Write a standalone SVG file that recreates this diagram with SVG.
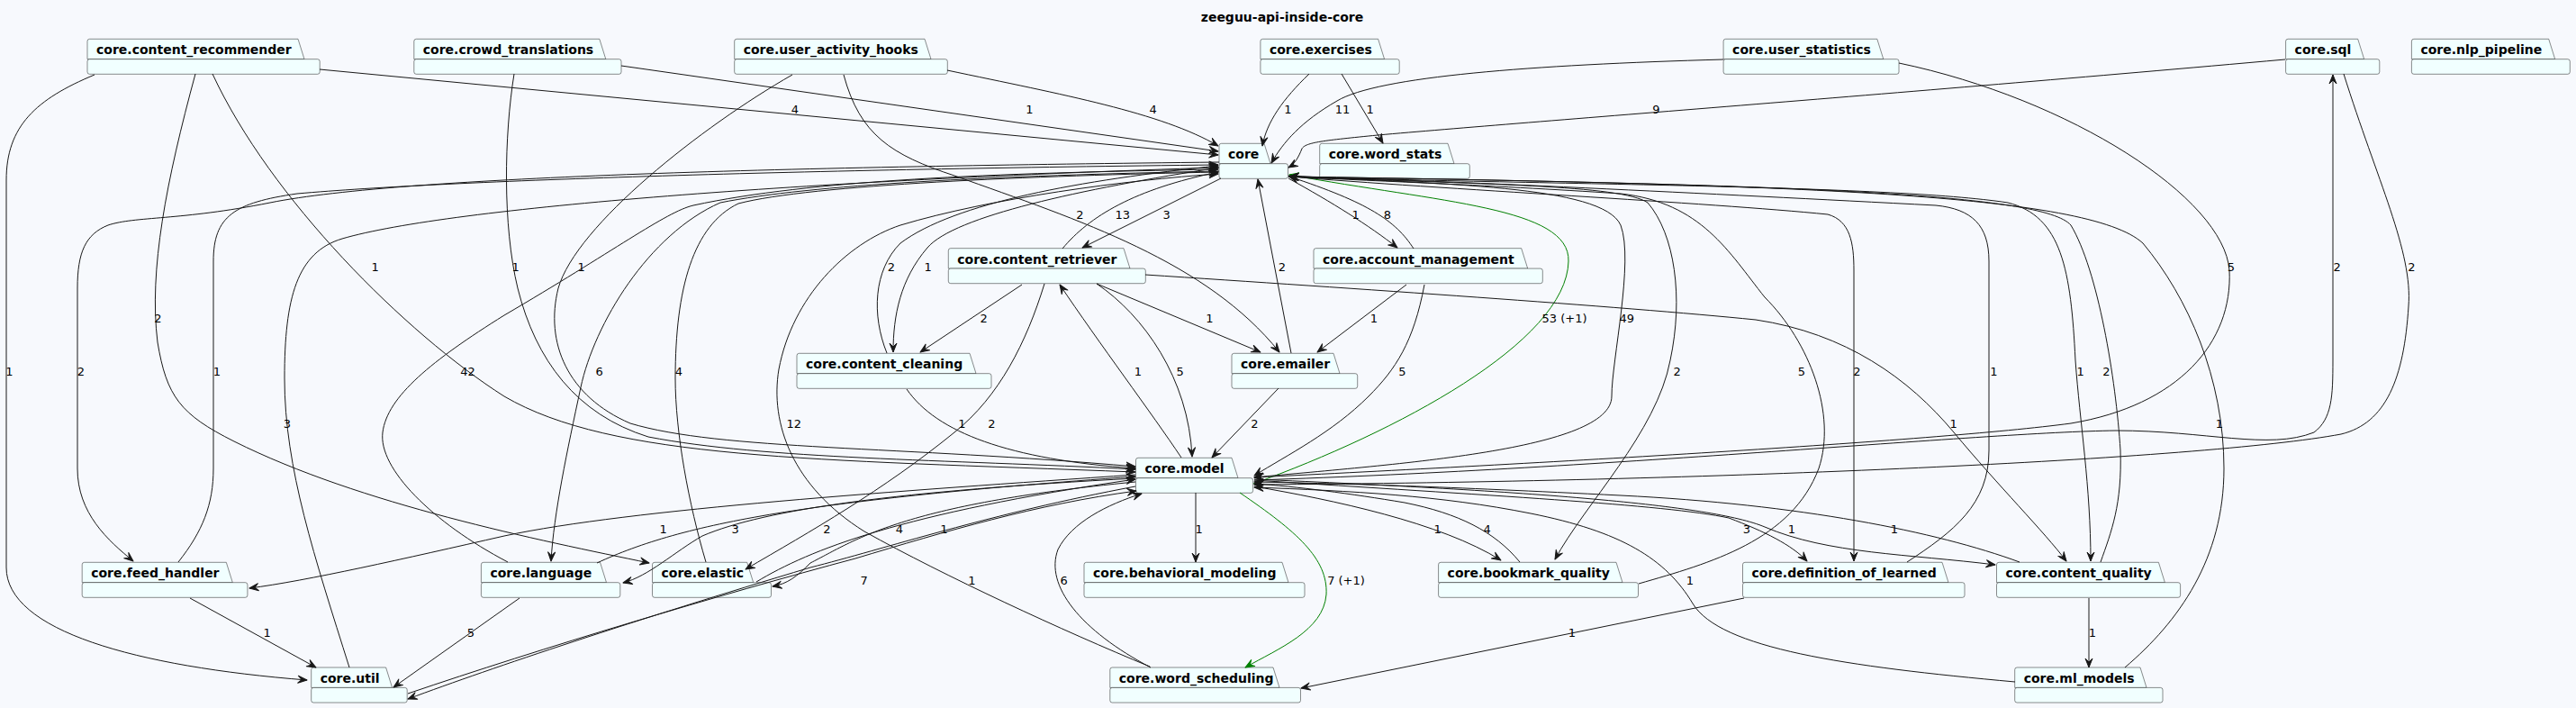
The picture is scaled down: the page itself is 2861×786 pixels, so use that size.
<svg xmlns="http://www.w3.org/2000/svg" width="2861" height="786" viewBox="0 0 2861 786">
<style>
.bg{fill:#F7F9FD}
.tab,.body{fill:#F1FFFF;stroke:#181818;stroke-width:0.5}
.nl{font-family:"DejaVu Sans",Verdana,sans-serif;font-weight:bold;font-size:14px;fill:#000}
.title{font-family:"DejaVu Sans",Verdana,sans-serif;font-weight:bold;font-size:14px;fill:#000;text-anchor:middle}
.e{fill:none;stroke:#181818;stroke-width:1;marker-end:url(#a)}
.g{fill:none;stroke:#008000;stroke-width:1;marker-end:url(#ag)}
.el{font-family:"DejaVu Sans",Verdana,sans-serif;font-size:13px;fill:#000;text-anchor:middle}
</style>
<defs>
<marker id="a" viewBox="-11 -5 12 10" refX="0" refY="0" markerWidth="12" markerHeight="10" markerUnits="userSpaceOnUse" orient="auto"><path d="M0,0 L-10,-4 L-6,0 L-10,4 Z" fill="#181818" stroke="#181818" stroke-width="1" stroke-linejoin="round"/></marker>
<marker id="ag" viewBox="-11 -5 12 10" refX="0" refY="0" markerWidth="12" markerHeight="10" markerUnits="userSpaceOnUse" orient="auto"><path d="M0,0 L-10,-4 L-6,0 L-10,4 Z" fill="#008000" stroke="#008000" stroke-width="1" stroke-linejoin="round"/></marker>
</defs>
<rect class="bg" x="0" y="0" width="2861" height="786"/>
<text class="title" x="1424" y="23.5">zeeguu-api-inside-core</text>

<g id="n-content_recommender"><path class="tab" d="M97,65.7 V45.8 Q97,43.3 99.5,43.3 H331 L338,65.7 Z"/><rect class="body" x="97" y="65.7" width="258.2" height="16.6" rx="2.5"/><text class="nl" x="107" y="60.4">core.content_recommender</text></g>
<g id="n-crowd_translations"><path class="tab" d="M459.8,65.7 V45.8 Q459.8,43.3 462.3,43.3 H665.8 L672.8,65.7 Z"/><rect class="body" x="459.8" y="65.7" width="230.2" height="16.6" rx="2.5"/><text class="nl" x="469.8" y="60.4">core.crowd_translations</text></g>
<g id="n-user_activity_hooks"><path class="tab" d="M815.7,65.7 V45.8 Q815.7,43.3 818.2,43.3 H1027 L1034,65.7 Z"/><rect class="body" x="815.7" y="65.7" width="236.6" height="16.6" rx="2.5"/><text class="nl" x="825.7" y="60.4">core.user_activity_hooks</text></g>
<g id="n-exercises"><path class="tab" d="M1399.9,65.7 V45.8 Q1399.9,43.3 1402.4,43.3 H1530.6 L1537.6,65.7 Z"/><rect class="body" x="1399.9" y="65.7" width="154.3" height="16.6" rx="2.5"/><text class="nl" x="1409.9" y="60.4">core.exercises</text></g>
<g id="n-user_statistics"><path class="tab" d="M1914.1,65.7 V45.8 Q1914.1,43.3 1916.6,43.3 H2084.8 L2091.8,65.7 Z"/><rect class="body" x="1914.1" y="65.7" width="194.9" height="16.6" rx="2.5"/><text class="nl" x="1924.1" y="60.4">core.user_statistics</text></g>
<g id="n-sql"><path class="tab" d="M2538.6,65.7 V45.8 Q2538.6,43.3 2541.1,43.3 H2618.7 L2625.7,65.7 Z"/><rect class="body" x="2538.6" y="65.7" width="104.2" height="16.6" rx="2.5"/><text class="nl" x="2548.6" y="60.4">core.sql</text></g>
<g id="n-nlp_pipeline"><path class="tab" d="M2678.4,65.7 V45.8 Q2678.4,43.3 2680.9,43.3 H2830.7 L2837.7,65.7 Z"/><rect class="body" x="2678.4" y="65.7" width="175.9" height="16.6" rx="2.5"/><text class="nl" x="2688.4" y="60.4">core.nlp_pipeline</text></g>

<g id="n-core"><path class="tab" d="M1354,181.7 V161.8 Q1354,159.3 1356.5,159.3 H1404 L1411,181.7 Z"/><rect class="body" x="1354" y="181.7" width="76.5" height="16.6" rx="2.5"/><text class="nl" x="1364" y="176.4">core</text></g>
<g id="n-word_stats"><path class="tab" d="M1465.7,181.7 V161.8 Q1465.7,159.3 1468.2,159.3 H1608 L1615,181.7 Z"/><rect class="body" x="1465.7" y="181.7" width="166.6" height="16.6" rx="2.5"/><text class="nl" x="1475.7" y="176.4">core.word_stats</text></g>

<g id="n-content_retriever"><path class="tab" d="M1053.3,298.1 V278.2 Q1053.3,275.7 1055.8,275.7 H1248 L1255,298.1 Z"/><rect class="body" x="1053.3" y="298.1" width="219" height="16.6" rx="2.5"/><text class="nl" x="1063.3" y="292.8">core.content_retriever</text></g>
<g id="n-account_management"><path class="tab" d="M1459,298.1 V278.2 Q1459,275.7 1461.5,275.7 H1689.7 L1696.7,298.1 Z"/><rect class="body" x="1459" y="298.1" width="254.3" height="16.6" rx="2.5"/><text class="nl" x="1469" y="292.8">core.account_management</text></g>

<g id="n-content_cleaning"><path class="tab" d="M885,414.7 V394.8 Q885,392.3 887.5,392.3 H1077 L1084,414.7 Z"/><rect class="body" x="885" y="414.7" width="216" height="16.6" rx="2.5"/><text class="nl" x="895" y="409.4">core.content_cleaning</text></g>
<g id="n-emailer"><path class="tab" d="M1368,414.7 V394.8 Q1368,392.3 1370.5,392.3 H1481 L1488,414.7 Z"/><rect class="body" x="1368" y="414.7" width="139.7" height="16.6" rx="2.5"/><text class="nl" x="1378" y="409.4">core.emailer</text></g>

<g id="n-model"><path class="tab" d="M1261.5,530.7 V510.8 Q1261.5,508.3 1264,508.3 H1368 L1375,530.7 Z"/><rect class="body" x="1261.5" y="530.7" width="130.1" height="16.6" rx="2.5"/><text class="nl" x="1271.5" y="525.4">core.model</text></g>

<g id="n-feed_handler"><path class="tab" d="M91.2,646.7 V626.8 Q91.2,624.3 93.7,624.3 H251.3 L258.3,646.7 Z"/><rect class="body" x="91.2" y="646.7" width="183.7" height="16.6" rx="2.5"/><text class="nl" x="101.2" y="641.4">core.feed_handler</text></g>
<g id="n-language"><path class="tab" d="M534.4,646.7 V626.8 Q534.4,624.3 536.9,624.3 H666.5 L673.5,646.7 Z"/><rect class="body" x="534.4" y="646.7" width="154.4" height="16.6" rx="2.5"/><text class="nl" x="544.4" y="641.4">core.language</text></g>
<g id="n-elastic"><path class="tab" d="M724.5,646.7 V626.8 Q724.5,624.3 727,624.3 H829.7 L836.7,646.7 Z"/><rect class="body" x="724.5" y="646.7" width="132" height="16.6" rx="2.5"/><text class="nl" x="734.5" y="641.4">core.elastic</text></g>
<g id="n-behavioral_modeling"><path class="tab" d="M1204,646.7 V626.8 Q1204,624.3 1206.5,624.3 H1424 L1431,646.7 Z"/><rect class="body" x="1204" y="646.7" width="245" height="16.6" rx="2.5"/><text class="nl" x="1214" y="641.4">core.behavioral_modeling</text></g>
<g id="n-bookmark_quality"><path class="tab" d="M1597.6,646.7 V626.8 Q1597.6,624.3 1600.1,624.3 H1795 L1802,646.7 Z"/><rect class="body" x="1597.6" y="646.7" width="221.9" height="16.6" rx="2.5"/><text class="nl" x="1607.6" y="641.4">core.bookmark_quality</text></g>
<g id="n-definition_of_learned"><path class="tab" d="M1935.5,646.7 V626.8 Q1935.5,624.3 1938,624.3 H2157 L2164,646.7 Z"/><rect class="body" x="1935.5" y="646.7" width="246.5" height="16.6" rx="2.5"/><text class="nl" x="1945.5" y="641.4">core.definition_of_learned</text></g>
<g id="n-content_quality"><path class="tab" d="M2217.5,646.7 V626.8 Q2217.5,624.3 2220,624.3 H2397.4 L2404.4,646.7 Z"/><rect class="body" x="2217.5" y="646.7" width="204.1" height="16.6" rx="2.5"/><text class="nl" x="2227.5" y="641.4">core.content_quality</text></g>

<g id="n-util"><path class="tab" d="M345.7,763.4 V743.5 Q345.7,741 348.2,741 H428.6 L435.6,763.4 Z"/><rect class="body" x="345.7" y="763.4" width="106.5" height="16.6" rx="2.5"/><text class="nl" x="355.7" y="758.1">core.util</text></g>
<g id="n-word_scheduling"><path class="tab" d="M1232.8,763.4 V743.5 Q1232.8,741 1235.3,741 H1414 L1421,763.4 Z"/><rect class="body" x="1232.8" y="763.4" width="211.7" height="16.6" rx="2.5"/><text class="nl" x="1242.8" y="758.1">core.word_scheduling</text></g>
<g id="n-ml_models"><path class="tab" d="M2237.7,763.4 V743.5 Q2237.7,741 2240.2,741 H2377 L2384,763.4 Z"/><rect class="body" x="2237.7" y="763.4" width="164.3" height="16.6" rx="2.5"/><text class="nl" x="2247.7" y="758.1">core.ml_models</text></g>

<g id="connectors">
<path class="e" d="M355,77 L1353,172"/>
<path class="e" d="M690,73 L1353,168"/>
<path class="e" d="M1052,78 C1180,105 1290,125 1353,162"/>
<path class="e" d="M1454,82 C1425,110 1407,135 1402,162"/>
<path class="e" d="M1490,82 L1536,159"/>
<path class="e" d="M1914,66 C1700,72 1530,85 1485,112 C1445,135 1425,158 1412,181"/>
<path class="e" d="M2538,66 C2100,105 1700,135 1530,150 C1470,156 1450,158 1446,165 C1442,175 1438,182 1431,186"/>
<path class="e" d="M1356,198 L1202,275"/>
<path class="e" d="M1180,276 C1210,240 1260,210 1353,191"/>
<path class="e" d="M937,83 C955,150 990,172 1060,195 C1200,245 1340,290 1421,391"/>
<path class="e" d="M1431,198 C1480,225 1520,250 1552,275"/>
<path class="e" d="M1570,276 C1550,245 1520,225 1432,196"/>
<path class="e" d="M1434,392 L1397,199"/>
<path class="e" d="M1354,186 C1200,210 1060,240 1030,275 C1000,310 992,350 992,391"/>
<path class="e" d="M985,392 C968,350 970,300 1000,270 C1060,225 1200,200 1353,184"/>
<path class="e" d="M1135,316 L1022,391"/>
<path class="e" d="M1218,315 L1400,391"/>
<path class="e" d="M1562,316 L1463,391"/>
<path class="g" d="M1392,537 C1550,480 1740,380 1742,290 C1744,230 1600,225 1432,194"/>
<path class="e" d="M1431,195 C1600,205 1780,205 1800,250 C1815,290 1790,400 1790,440 C1790,500 1550,515 1393,530"/>
<path class="e" d="M1431,196 C1650,205 1800,205 1830,225 C1860,260 1870,330 1855,400 C1840,480 1760,560 1727,621"/>
<path class="e" d="M1820,648 C1900,625 1990,600 2020,520 C2040,460 2010,380 1960,330 C1920,280 1890,225 1800,215 C1650,205 1500,200 1432,196"/>
<path class="e" d="M1431,196 C1600,210 1900,225 2030,238 C2055,245 2059,270 2059,300 L2059,623"/>
<path class="e" d="M2118,624 C2170,590 2209,560 2209,500 L2209,290 C2209,250 2190,232 2150,228 C1900,215 1600,200 1432,196"/>
<path class="e" d="M1431,196 C1700,205 2100,205 2230,225 C2290,240 2300,300 2305,400 C2310,470 2322,540 2322,623"/>
<path class="e" d="M2333,624 C2345,590 2357,560 2355,500 C2350,420 2330,300 2300,250 C2270,215 2000,205 1432,196"/>
<path class="e" d="M2360,741 C2420,690 2470,620 2470,520 C2470,420 2430,330 2380,270 C2320,215 2000,205 1432,196"/>
<path class="e" d="M2109,70 C2300,110 2470,220 2476,300 C2480,380 2420,450 2300,470 C2150,490 1700,515 1393,530"/>
<path class="e" d="M1393,533 C1800,520 2200,480 2350,478 C2450,478 2520,500 2570,480 C2590,465 2591,440 2591,400 L2591,83"/>
<path class="e" d="M2603,82 C2640,200 2680,280 2675,340 C2670,420 2650,470 2600,482 C2450,510 1900,535 1393,538"/>
<path class="e" d="M105,83 C40,110 7,140 7,200 L7,630 C7,700 150,740 341,755"/>
<path class="e" d="M1354,180 C900,185 450,195 300,225 C200,245 150,240 120,250 C95,260 86,280 86,320 L86,520 C86,570 120,600 148,623"/>
<path class="e" d="M198,624 C225,590 237,560 237,520 L237,290 C237,240 260,225 330,215 C500,200 900,188 1353,183"/>
<path class="e" d="M388,741 C350,620 316,520 316,420 C316,330 330,280 380,265 C500,230 900,200 1353,186"/>
<path class="e" d="M236,82 C300,220 450,370 560,440 C680,510 900,510 1261,524"/>
<path class="e" d="M571,82 C560,150 558,250 575,320 C595,400 640,460 720,485 C850,510 1050,510 1261,521"/>
<path class="e" d="M880,83 C780,140 640,250 620,320 C605,380 630,440 700,470 C800,500 1000,495 1261,518"/>
<path class="e" d="M564,624 C480,580 420,520 425,480 C430,440 480,400 560,350 C680,280 740,235 770,228 C900,200 1100,192 1353,188"/>
<path class="e" d="M1354,190 C1100,195 900,205 800,225 C720,260 660,360 645,430 C630,500 615,570 612,623"/>
<path class="e" d="M784,624 C765,560 750,480 750,420 C750,320 770,250 820,226 C900,205 1150,195 1353,191"/>
<path class="e" d="M1277,740 C1180,700 1050,640 960,590 C880,540 855,470 865,410 C880,330 940,270 1000,250 C1100,220 1250,200 1353,193"/>
<path class="e" d="M217,82 C185,200 165,300 175,380 C185,440 200,460 260,490 C400,560 600,600 721,625"/>
<path class="e" d="M1160,315 C1140,380 1110,440 1060,480 C980,545 900,590 828,632"/>
<path class="e" d="M1007,432 C1040,480 1120,510 1261,520"/>
<path class="e" d="M1312,508 C1280,460 1220,380 1177,316"/>
<path class="e" d="M1218,315 C1270,350 1320,420 1324,507"/>
<path class="e" d="M1420,431 L1346,508"/>
<path class="e" d="M1582,316 C1570,380 1550,410 1520,440 C1480,480 1430,505 1393,528"/>
<path class="e" d="M1328,547 L1328,624"/>
<path class="g" d="M1377,547 C1440,590 1475,620 1473,660 C1470,700 1420,720 1383,741"/>
<path class="e" d="M1278,741 C1200,700 1160,650 1175,610 C1190,580 1230,560 1268,548"/>
<path class="e" d="M1393,540 C1480,555 1600,580 1667,622"/>
<path class="e" d="M1688,624 C1660,590 1620,570 1560,558 C1500,548 1440,540 1393,537"/>
<path class="e" d="M1393,533 C1650,550 1850,560 1920,575 C1960,590 1990,605 2007,623"/>
<path class="e" d="M1393,532 C1700,545 1900,560 1960,585 C2030,615 2120,615 2216,627"/>
<path class="e" d="M2243,624 C2150,590 2000,560 1800,550 C1600,540 1500,537 1393,535"/>
<path class="e" d="M2238,757 C2050,740 1910,720 1880,670 C1850,620 1800,590 1700,570 C1600,550 1500,545 1393,541"/>
<path class="e" d="M1937,664 L1445,764"/>
<path class="e" d="M2320,664 L2320,741"/>
<path class="e" d="M1261,527 C1000,545 700,565 560,595 C450,620 340,645 277,653"/>
<path class="e" d="M1261,531 C1000,545 850,565 780,595 C750,612 720,640 692,647"/>
<path class="e" d="M840,646 C900,610 1000,570 1261,532"/>
<path class="e" d="M1261,535 C1000,560 950,600 900,625 C885,640 875,648 858,651"/>
<path class="e" d="M663,625 C760,580 900,555 1261,529"/>
<path class="e" d="M1261,540 C1100,570 980,610 900,630 C700,690 550,740 453,776"/>
<path class="e" d="M453,770 C600,720 800,660 950,620 C1050,590 1150,560 1262,545"/>
<path class="e" d="M211,664 L351,741"/>
<path class="e" d="M577,664 L437,763"/>
<path class="e" d="M1272,305 C1500,320 1800,340 1950,355 C2050,370 2120,420 2170,480 C2220,540 2270,590 2295,623"/>
</g>

<g id="edge-labels">
<text class="el" x="883" y="126">4</text>
<text class="el" x="1143.5" y="126">1</text>
<text class="el" x="1280.6" y="126">4</text>
<text class="el" x="1430.5" y="126">1</text>
<text class="el" x="1491" y="126">11</text>
<text class="el" x="1521.7" y="126">1</text>
<text class="el" x="1839.3" y="126">9</text>
<text class="el" x="1199.5" y="242.5">2</text>
<text class="el" x="1246.8" y="242.5">13</text>
<text class="el" x="1295.7" y="242.5">3</text>
<text class="el" x="1505.7" y="242.5">1</text>
<text class="el" x="1540.8" y="242.5">8</text>
<text class="el" x="416.7" y="300.5">1</text>
<text class="el" x="572.7" y="300.5">1</text>
<text class="el" x="645.7" y="300.5">1</text>
<text class="el" x="990" y="300.5">2</text>
<text class="el" x="1030.7" y="300.5">1</text>
<text class="el" x="1424" y="300.5">2</text>
<text class="el" x="2478" y="300.5">5</text>
<text class="el" x="2595.6" y="300.5">2</text>
<text class="el" x="2678.4" y="300.5">2</text>
<text class="el" x="175.4" y="358">2</text>
<text class="el" x="1092.6" y="358">2</text>
<text class="el" x="1343.5" y="358">1</text>
<text class="el" x="1525.8" y="358">1</text>
<text class="el" x="1737.6" y="358">53 (+1)</text>
<text class="el" x="1806.7" y="358">49</text>
<text class="el" x="10.5" y="416.5">1</text>
<text class="el" x="90" y="416.5">2</text>
<text class="el" x="241" y="416.5">1</text>
<text class="el" x="519.5" y="416.5">42</text>
<text class="el" x="665.7" y="416.5">6</text>
<text class="el" x="754" y="416.5">4</text>
<text class="el" x="1263.8" y="416.5">1</text>
<text class="el" x="1310.7" y="416.5">5</text>
<text class="el" x="1557.5" y="416.5">5</text>
<text class="el" x="1862.7" y="416.5">2</text>
<text class="el" x="2001" y="416.5">5</text>
<text class="el" x="2062.4" y="416.5">2</text>
<text class="el" x="2214.4" y="416.5">1</text>
<text class="el" x="2310.6" y="416.5">1</text>
<text class="el" x="2339.4" y="416.5">2</text>
<text class="el" x="319" y="475">3</text>
<text class="el" x="881.8" y="475">12</text>
<text class="el" x="1068.3" y="475">1</text>
<text class="el" x="1101.5" y="475">2</text>
<text class="el" x="1393.4" y="475">2</text>
<text class="el" x="2169.7" y="475">1</text>
<text class="el" x="2465" y="475">1</text>
<text class="el" x="736.6" y="591.5">1</text>
<text class="el" x="816.6" y="591.5">3</text>
<text class="el" x="918.3" y="591.5">2</text>
<text class="el" x="999" y="591.5">4</text>
<text class="el" x="1048.3" y="591.5">1</text>
<text class="el" x="1331.6" y="591.5">1</text>
<text class="el" x="1596.6" y="591.5">1</text>
<text class="el" x="1651.7" y="591.5">4</text>
<text class="el" x="1939.8" y="591.5">3</text>
<text class="el" x="1990" y="591.5">1</text>
<text class="el" x="2104" y="591.5">1</text>
<text class="el" x="959.6" y="649">7</text>
<text class="el" x="1079.4" y="649">1</text>
<text class="el" x="1181.7" y="649">6</text>
<text class="el" x="1495" y="649">7 (+1)</text>
<text class="el" x="1876.8" y="649">1</text>
<text class="el" x="296.6" y="707">1</text>
<text class="el" x="523" y="707">5</text>
<text class="el" x="1746" y="707">1</text>
<text class="el" x="2324" y="707">1</text>
</g>
</svg>
